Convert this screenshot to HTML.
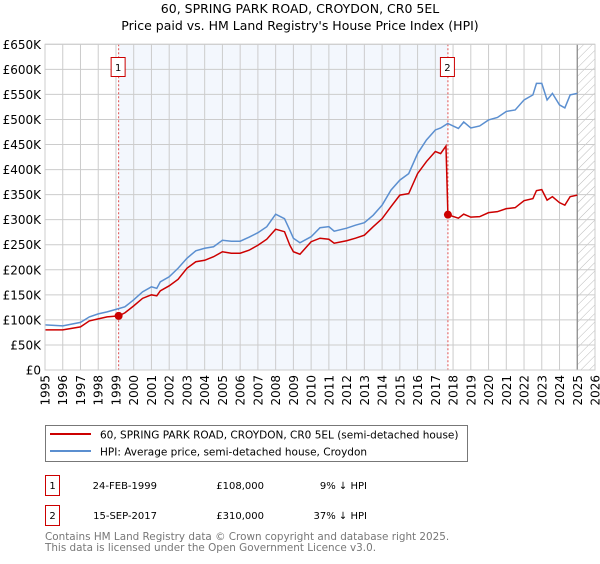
<!DOCTYPE html>
<html><head><meta charset="utf-8"><style>
body{margin:0;background:#fff;font-family:"DejaVu Sans","Liberation Sans",sans-serif;}
svg text{font-family:"DejaVu Sans","Liberation Sans",sans-serif;}
</style></head><body>
<svg id="chart" width="600" height="560" xmlns="http://www.w3.org/2000/svg">
<defs><pattern id="hatch" width="6" height="6" patternUnits="userSpaceOnUse" patternTransform="rotate(45)"><line x1="0" y1="0" x2="0" y2="6" stroke="#bbb" stroke-width="1"/></pattern></defs>
<text x="300" y="13" text-anchor="middle" font-size="12.5">60, SPRING PARK ROAD, CROYDON, CR0 5EL</text>
<text x="300" y="30" text-anchor="middle" font-size="12.5">Price paid vs. HM Land Registry's House Price Index (HPI)</text>
<g id="plot"></g>
<rect x="45.5" y="425.5" width="422" height="36" fill="#fff" stroke="#777"/>
<line x1="50" y1="434" x2="91" y2="434" stroke="#cc0000" stroke-width="2"/>
<text x="100" y="438.5" font-size="10.5">60, SPRING PARK ROAD, CROYDON, CR0 5EL (semi-detached house)</text>
<line x1="50" y1="451" x2="91" y2="451" stroke="#5b8fd0" stroke-width="2"/>
<text x="100" y="455.5" font-size="10.5">HPI: Average price, semi-detached house, Croydon</text>
<g font-size="10">
<rect x="45.5" y="475.5" width="14" height="20" fill="#fff" stroke="#cc0000"/>
<text x="52.5" y="489" text-anchor="middle">1</text>
<text x="157" y="489" text-anchor="end">24-FEB-1999</text>
<text x="264" y="489" text-anchor="end">£108,000</text>
<text x="367" y="489" text-anchor="end">9% ↓ HPI</text>
</g>
<g font-size="10">
<rect x="45.5" y="505.5" width="14" height="20" fill="#fff" stroke="#cc0000"/>
<text x="52.5" y="519" text-anchor="middle">2</text>
<text x="157" y="519" text-anchor="end">15-SEP-2017</text>
<text x="264" y="519" text-anchor="end">£310,000</text>
<text x="367" y="519" text-anchor="end">37% ↓ HPI</text>
</g>
<text x="45" y="540" font-size="10.4" fill="#777">Contains HM Land Registry data © Crown copyright and database right 2025.</text>
<text x="45" y="551" font-size="10.4" fill="#777">This data is licensed under the Open Government Licence v3.0.</text>
</svg>
<script>
const hpiYears=[1995,1996,1997,1997.5,1998,1998.5,1999,1999.5,2000,2000.5,2001,2001.3,2001.5,2002,2002.5,2003,2003.5,2004,2004.5,2005,2005.5,2006,2006.5,2007,2007.5,2008,2008.5,2008.8,2009,2009.37,2010,2010.5,2011,2011.3,2012,2012.5,2013,2013.5,2014,2014.5,2015,2015.5,2016,2016.5,2017,2017.3,2017.7,2018.3,2018.6,2019,2019.5,2020,2020.5,2021,2021.5,2022,2022.5,2022.7,2023,2023.3,2023.6,2024,2024.3,2024.6,2025];
const hpiValues=[90,88,95,106,112,116,121,126,140,156,166,163,176,186,203,223,238,243,246,259,257,257,265,274,286,311,302,279,263,254,266,284,286,277,283,289,294,309,329,359,379,392,432,459,479,483,492,482,495,483,487,499,504,516,519,539,549,572,572,539,552,529,523,549,552];
const propYears=[1995,1996,1997,1997.5,1998,1998.5,1999.15,1999.5,2000,2000.5,2001,2001.3,2001.5,2002,2002.5,2003,2003.5,2004,2004.5,2005,2005.5,2006,2006.5,2007,2007.5,2008,2008.5,2008.8,2009,2009.37,2010,2010.5,2011,2011.3,2012,2012.5,2013,2013.5,2014,2014.5,2015,2015.5,2016,2016.5,2017,2017.3,2017.6,2017.71,2018.3,2018.6,2019,2019.5,2020,2020.5,2021,2021.5,2022,2022.5,2022.7,2023,2023.3,2023.6,2024,2024.3,2024.6,2025];
const propValues=[80,80,86,98,102,106,108,114,128,143,150,148,158,168,181,203,216,219,226,236,233,233,239,249,261,281,276,249,236,231,256,263,261,253,258,263,269,286,302,326,349,352,392,416,436,432,447,310,303,311,305,306,314,316,322,324,338,342,358,360,339,346,334,329,346,349];
const saleYears=[1999.15,2017.71];
const salePrices=[108,310];
const saleLabels=["1","2"];
const yTicks=[0,50,100,150,200,250,300,350,400,450,500,550,600,650];
const yTickLabels=["£0","£50K","£100K","£150K","£200K","£250K","£300K","£350K","£400K","£450K","£500K","£550K","£600K","£650K"];
const xTicks=[1995,1996,1997,1998,1999,2000,2001,2002,2003,2004,2005,2006,2007,2008,2009,2010,2011,2012,2013,2014,2015,2016,2017,2018,2019,2020,2021,2022,2023,2024,2025,2026];
const dataEnd=2025.0;

const L=45,R=595,T=44.3,B=370;
const xS=y=>L+(y-1995)/(2026-1995)*(R-L);
const yS=v=>B-v/650*(B-T);
const NS="http://www.w3.org/2000/svg";
const g=document.getElementById('plot');
function mk(tag,attrs,parent){const e=document.createElementNS(NS,tag);for(const k in attrs)e.setAttribute(k,attrs[k]);(parent||g).appendChild(e);return e;}

const bg=mk('rect',{x:L,y:T,width:R-L,height:B-T,fill:'#fff'});


const shade=mk('rect',{x:xS(saleYears[0]),y:T,width:xS(saleYears[1])-xS(saleYears[0]),height:B-T,fill:'#eef3fc',opacity:0.7});


const hatch=mk('rect',{x:xS(dataEnd),y:T,width:R-xS(dataEnd),height:B-T,fill:'url(#hatch)'});



yTicks.forEach((v,i)=>{
  const l=mk('line',{x1:L,x2:R,y1:yS(v),y2:yS(v),stroke:'#ccc','stroke-width':1});
  
  
  const t=mk('text',{x:L-4,y:yS(v)+4.5,'text-anchor':'end','font-size':'12'});
  
  
  t.textContent=yTickLabels[i];
});
xTicks.forEach(yr=>{
  const l=mk('line',{x1:xS(yr),x2:xS(yr),y1:T,y2:B,stroke:'#ccc','stroke-width':1});
  
  
  const t=mk('text',{x:0,y:0,'text-anchor':'end','font-size':'12',transform:`translate(${xS(yr)+4.5},${B+5}) rotate(-90)`});
  
  
  t.textContent=yr;
});
const endLine=mk('line',{x1:xS(dataEnd),x2:xS(dataEnd),y1:T,y2:B,stroke:'#888','stroke-width':1.2});



saleYears.forEach((yr,i)=>{
  const l=mk('line',{x1:xS(yr),x2:xS(yr),y1:T,y2:B,stroke:'#e05050','stroke-width':1,'stroke-dasharray':'2,2'});
  
  
  const bx=mk('rect',{x:xS(yr)-7.5,y:57.5,width:14,height:19,fill:'#fff',stroke:'#cc0000'});
  
  
  const t=mk('text',{x:xS(yr)-0.5,y:71,'text-anchor':'middle','font-size':'10'});
  
  
  t.textContent=saleLabels[i];
});

const hp=mk('polyline',{points:hpiYears.map((y,i)=>xS(y)+','+yS(hpiValues[i])).join(' '),fill:'none',stroke:'#5b8fd0','stroke-width':1.5});


const pp=mk('polyline',{points:propYears.map((y,i)=>xS(y)+','+yS(propValues[i])).join(' '),fill:'none',stroke:'#cc0000','stroke-width':1.5});


saleYears.forEach((yr,i)=>{
  const c=mk('circle',{cx:xS(yr),cy:yS(salePrices[i]),r:4,fill:'#cc0000'});
  
  
});
const border=mk('rect',{x:L,y:T,width:R-L,height:B-T,fill:'none',stroke:'#ccc'});


</script>
</body></html>
